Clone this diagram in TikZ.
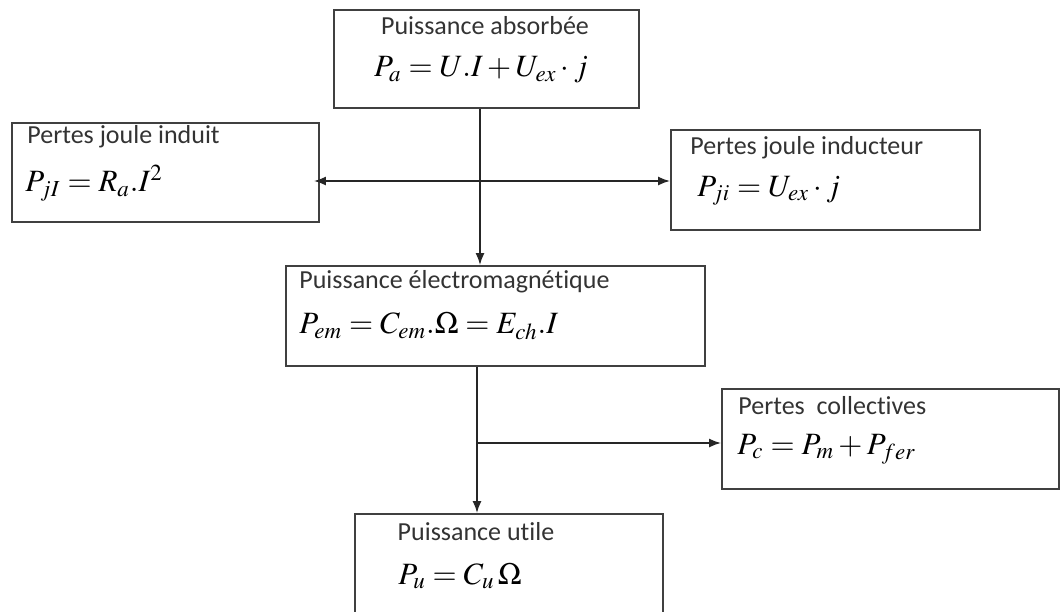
\documentclass[tikz,border=0pt]{standalone}
\usepackage{fontspec}
\usepackage{mathptmx}
\setsansfont{Carlito}[Ligatures={CommonOff,ContextualOff},RawFeature={-liga;-clig;-dlig}]
\usetikzlibrary{arrows.meta,positioning,calc}

\begin{document}
\begin{tikzpicture}[x=0.5pt,y=-0.5pt,>={Latex[length=6pt,width=4.5pt]},
  bx/.style={draw=black!75,line width=0.9pt,inner sep=0pt},
  ttl/.style={font=\sffamily\fontsize{13}{14}\selectfont,text=black!80,inner sep=0pt},
  eq/.style={font=\fontsize{15.5}{16}\selectfont,inner sep=0pt},
  ln/.style={line width=0.9pt,black!85}]
\useasboundingbox (0,0) rectangle (1061,611);
% boxes
\node[bx,minimum width=152.5pt,minimum height=49pt] (pa) at (486.5,59) {};
\node[bx,minimum width=153.5pt,minimum height=49.5pt] (pjI) at (165.5,172.5) {};
\node[bx,minimum width=154.5pt,minimum height=50pt] (pji) at (825.5,180) {};
\node[bx,minimum width=209.5pt,minimum height=50pt] (pem) at (495.5,316) {};
\node[bx,minimum width=168.5pt,minimum height=50pt] (pc) at (890.5,439) {};
\node[bx,minimum width=154pt,minimum height=63pt] (pu) at (509,577) {};
% texts
\node[ttl] (tpa) at (485,26) {Puissance absorbée};
\node[eq] (epa) at (481,70) {$P_a = U.I + U_{ex}\cdot j$};
\node[ttl,anchor=west] (tpjI) at (27,137) {Pertes joule induit};
\node[eq,anchor=west] (epjI) at (25,183) {$P_{jI} = R_a.I^2$};
\node[ttl,anchor=west] (tpji) at (690,148) {Pertes joule inducteur};
\node[eq,anchor=west] (epji) at (697,191) {$P_{ji} = U_{ex}\cdot j$};
\node[ttl,anchor=west] (tpem) at (299,282) {Puissance électromagnétique};
\node[eq,anchor=west] (epem) at (299,326) {$P_{em} = C_{em}.\Omega = E_{ch}.I$};
\node[ttl,anchor=west] (tpc) at (738,406) {Pertes~ collectives};
\node[eq,anchor=west] (epc) at (737,449) {$P_c = P_m + P_{fer}$};
\node[ttl] (tpu) at (476,532) {Puissance utile};
\node[eq] (epu) at (460,576) {$P_u = C_u\,\Omega$};
% connectors
\coordinate (c1) at (480,181);
\coordinate (c2) at (477,443);
\draw[ln,->] (pa.south -| c1) -- (pem.north -| c1);
\draw[ln,<->] (pjI.east |- c1) ++(-6,0) -- (pji.west |- c1);
\draw[ln,->] (pem.south -| c2) -- (pu.north -| c2);
\draw[ln,->] (c2) -- (pc.west |- c2);
\end{tikzpicture}
\end{document}
